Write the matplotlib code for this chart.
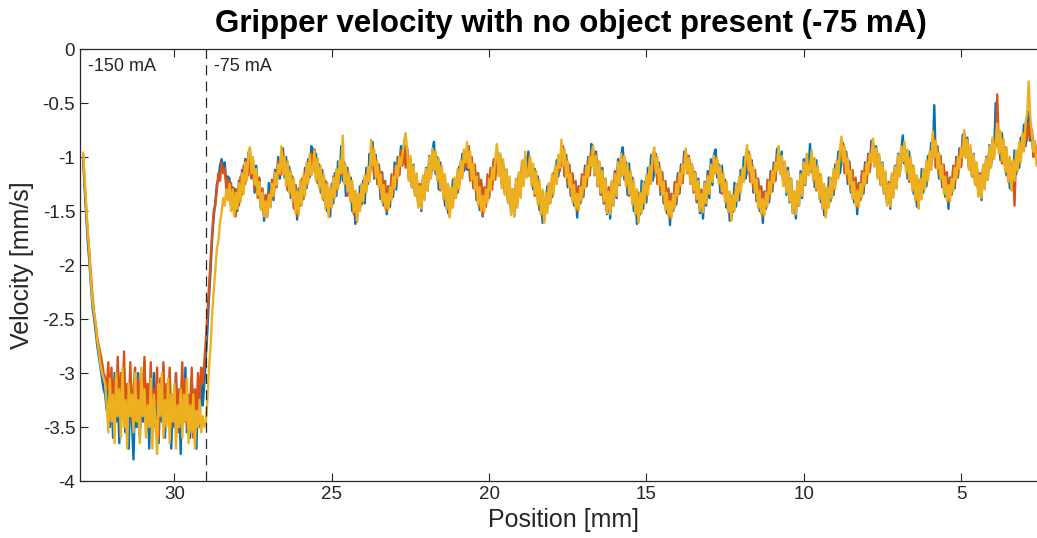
import numpy as np
import matplotlib
matplotlib.use("Agg")
import matplotlib.pyplot as plt

plt.rcParams['font.family'] = ['Liberation Sans', 'DejaVu Sans']

vel_blue = [
    # start-up drop
    -1.02, -1.3, -1.55, -1.8, -1.98, -2.2, -2.4, -2.5, -2.62, -2.75, -2.85, -2.95, -3.05, -3.15, -3.2,
    # -150 mA plateau
    -3.35, -3.05, -3.5, -3.15, -3.6, -3.0, -3.45, -3.2, -3.65, -3.1,
    -3.4, -2.95, -3.55, -3.25, -3.7, -3.1, -3.45, -3.8, -3.2, -3.5,
    -3.0, -3.6, -3.25, -3.45, -2.9, -3.55, -3.2, -3.7, -3.15, -3.4,
    -3.0, -3.5, -3.3, -3.65, -3.1, -3.45, -2.95, -3.6, -3.2, -3.4,
    -3.05, -3.7, -3.25, -3.5, -3.0, -3.55, -3.2, -3.75, -3.1, -3.45,
    -2.95, -3.55, -3.3, -3.6, -3.05, -3.4, -3.2, -3.7, -3.15, -3.5,
    -3.0, -3.3, -3.1,
    # switch to -75 mA
    -2.85, -2.6, -2.3, -2.05, -1.75, -1.55, -1.42, -1.25, -1.2, -1.08, -1.02, -1.12, -1.05, -1.25, -1.18,
    -1.20, -1.45, -1.28, -1.52, -1.30, -1.50, -1.22, -1.40, -1.12, -1.31, -1.02, -1.20, -0.96,
    # -75 mA ripple
    -0.93, -1.19, -1.07, -1.33, -1.08, -1.31, -1.21, -1.47, -1.36, -1.59, -1.36, -1.51, -1.24, -1.46, -1.25, -1.40, -1.12, -1.22, -1.00, -1.20,
    -1.10, -0.92, -1.19, -1.00, -1.30, -1.09, -1.38, -1.18, -1.47, -1.26, -1.58, -1.29, -1.45, -1.22, -1.39, -1.10, -1.29, -1.02, -1.19, -0.90,
    -0.93, -1.12, -0.97, -1.24, -1.07, -1.33, -1.12, -1.40, -1.22, -1.50, -1.35, -1.55, -1.25, -1.43, -1.15, -1.36, -1.04, -1.24,
    -0.90, -1.22, -1.05, -1.36, -1.10, -1.28, -1.19, -1.50, -1.33, -1.62, -1.38, -1.48, -1.27, -1.44, -1.22, -1.43, -1.10, -1.25, -0.97,
    -1.08, -0.86, -1.20, -0.98, -1.25, -1.07, -1.39, -1.14, -1.45, -1.28, -1.53, -1.27, -1.46, -1.18, -1.37, -1.05, -1.30, -1.00, -1.14, -0.90, -1.05,
    -0.88, -1.07, -0.92, -1.19, -1.02, -1.28, -1.07, -1.35, -1.17, -1.45, -1.30, -1.50, -1.20, -1.38, -1.10, -1.31, -0.99, -1.19, -0.95,
    -0.86, -1.16, -1.00, -1.30, -1.05, -1.23, -1.18, -1.45, -1.29, -1.52, -1.34, -1.44, -1.21, -1.38, -1.22, -1.33, -1.09, -1.15, -0.97, -1.13, -1.02,
    -1.12, -0.90, -1.21, -1.03, -1.27, -1.11, -1.40, -1.15, -1.49, -1.24, -1.55, -1.31, -1.43, -1.25, -1.36, -1.12, -1.26, -1.04, -1.16,
    -0.93, -1.12, -0.97, -1.24, -1.07, -1.33, -1.12, -1.40, -1.22, -1.50, -1.35, -1.55, -1.25, -1.43, -1.15, -1.36, -1.04, -1.24, -1.00, -1.13,
    -0.95, -1.17, -1.10, -1.30, -1.11, -1.34, -1.18, -1.49, -1.33, -1.61, -1.38, -1.49, -1.27, -1.43, -1.28, -1.37, -1.15, -1.20, -1.03, -1.18, -1.07,
    -1.08, -0.90, -1.17, -0.98, -1.28, -1.07, -1.36, -1.16, -1.45, -1.24, -1.56, -1.27, -1.43, -1.20, -1.37, -1.08, -1.27, -1.00, -1.17, -0.88,
    -0.90, -1.15, -0.95, -1.27, -1.05, -1.35, -1.10, -1.43, -1.20, -1.53, -1.33, -1.57, -1.23, -1.45, -1.13, -1.38, -1.02, -1.26, -0.98,
    -0.91, -1.21, -1.05, -1.35, -1.06, -1.33, -1.19, -1.50, -1.34, -1.62, -1.33, -1.53, -1.22, -1.48, -1.23, -1.42, -1.10, -1.24, -0.98, -1.22,
    -1.15, -0.97, -1.24, -1.05, -1.35, -1.14, -1.43, -1.23, -1.52, -1.31, -1.63, -1.34, -1.50, -1.27, -1.44, -1.15, -1.34, -1.07, -1.24, -0.95,
    -0.95, -1.10, -0.99, -1.22, -1.09, -1.31, -1.14, -1.42, -1.20, -1.52, -1.33, -1.57, -1.23, -1.45, -1.13, -1.38, -1.02, -1.26, -0.98,
    -0.93, -1.19, -1.07, -1.33, -1.08, -1.31, -1.21, -1.47, -1.36, -1.59, -1.36, -1.51, -1.24, -1.46, -1.25, -1.40, -1.12, -1.22, -1.00, -1.20,
    -1.13, -0.95, -1.22, -1.03, -1.33, -1.12, -1.41, -1.21, -1.50, -1.29, -1.61, -1.32, -1.48, -1.25, -1.42, -1.13, -1.32, -1.05, -1.22, -0.93,
    -0.91, -1.14, -0.95, -1.26, -1.05, -1.35, -1.10, -1.42, -1.20, -1.52, -1.33, -1.57, -1.23, -1.45, -1.13, -1.38, -1.02, -1.26, -0.98, -1.15,
    -0.88, -1.14, -1.02, -1.28, -1.03, -1.26, -1.16, -1.42, -1.31, -1.54, -1.31, -1.46, -1.19, -1.41, -1.20, -1.35, -1.07, -1.17, -0.95, -1.15,
    -1.05, -0.87, -1.14, -0.95, -1.25, -1.04, -1.33, -1.13, -1.42, -1.21, -1.53, -1.24, -1.40, -1.17, -1.34, -1.05, -1.24, -0.97, -1.14, -0.85,
    -0.86, -1.05, -0.90, -1.17, -1.00, -1.26, -1.05, -1.33, -1.15, -1.43, -1.28, -1.48, -1.18, -1.36, -1.08, -1.29, -0.97, -1.17, -0.93,
    -0.80, -1.06, -0.94, -1.20, -0.95, -1.18, -1.08, -1.34, -1.23, -1.46, -1.23, -1.38, -1.11, -1.33, -1.12, -1.27, -0.99, -1.09, -0.87,
    -1.00, -0.52, -1.09, -0.90, -1.20, -0.99, -1.28, -1.08, -1.37, -1.16, -1.48, -1.19, -1.35, -1.12, -1.29, -1.00, -1.19, -0.92, -1.09, -0.80,
    -0.78, -0.97, -0.82, -1.09, -0.92, -1.18, -0.97, -1.25, -1.07, -1.35, -1.20, -1.40, -1.10, -1.28, -1.00, -1.21, -0.89, -1.09, -0.85, -0.98,
    -0.50, -0.89, -0.77, -1.03, -0.78, -1.01, -0.91, -1.17, -1.06, -1.29, -1.06, -1.21, -0.94, -1.16, -0.95, -1.10, -0.82, -0.92, -0.70, -0.90, -0.75,
    -0.58, -0.85, -0.75, -0.98, -0.88, -0.95,
]

vel_orange = [
    -0.98, -1.25, -1.5, -1.72, -1.9, -2.1, -2.3, -2.45, -2.55, -2.68, -2.75, -2.82, -2.9, -3.0, -3.05,
    -3.15, -2.9, -3.3, -2.95, -3.45, -3.05, -3.25, -2.85, -3.4, -3.0,
    -3.3, -2.8, -3.5, -3.1, -3.35, -2.9, -3.45, -3.15, -2.95, -3.4,
    -3.05, -3.55, -3.0, -3.3, -2.85, -3.45, -3.1, -3.35, -2.9, -3.5,
    -3.15, -3.3, -2.95, -3.6, -3.05, -3.35, -2.9, -3.45, -3.1, -3.3,
    -2.95, -3.5, -3.2, -3.4, -3.0, -3.55, -3.15, -3.3, -2.9, -3.45,
    -3.05, -3.5, -3.2, -3.35, -2.95, -3.6, -3.15, -3.4, -3.0, -3.3,
    -2.95, -3.1, -2.9,
    -2.7, -2.45, -2.2, -1.95, -1.7, -1.5, -1.45, -1.3, -1.15, -1.22, -1.05, -1.15, -1.1, -1.3, -1.2,
    -1.40, -1.24, -1.48, -1.29, -1.55, -1.30, -1.45, -1.18, -1.35, -1.08, -1.25, -1.02, -1.17,
    -0.99, -1.20, -1.04, -1.30, -1.13, -1.38, -1.19, -1.46, -1.29, -1.54, -1.35, -1.55, -1.32, -1.45, -1.21, -1.38, -1.13, -1.28, -1.04, -1.17,
    -1.12, -0.96, -1.17, -1.05, -1.31, -1.12, -1.35, -1.20, -1.48, -1.27, -1.55, -1.33, -1.42, -1.20, -1.37, -1.14, -1.26, -1.06, -1.17, -0.97,
    -1.06, -0.93, -1.20, -1.02, -1.27, -1.10, -1.36, -1.17, -1.44, -1.24, -1.52, -1.30, -1.44, -1.18, -1.36, -1.12, -1.28, -1.04,
    -1.17, -1.01, -1.22, -1.10, -1.36, -1.17, -1.40, -1.25, -1.53, -1.32, -1.60, -1.38, -1.47, -1.25, -1.42, -1.19, -1.31, -1.11, -1.22,
    -1.04, -0.91, -1.18, -1.00, -1.25, -1.08, -1.34, -1.15, -1.42, -1.22, -1.50, -1.28, -1.42, -1.16, -1.34, -1.10, -1.26, -1.02, -1.17, -0.94, -1.08,
    -0.89, -1.10, -0.94, -1.20, -1.03, -1.28, -1.09, -1.36, -1.19, -1.44, -1.25, -1.45, -1.22, -1.35, -1.11, -1.28, -1.03, -1.18, -0.94,
    -1.12, -0.96, -1.17, -1.05, -1.31, -1.12, -1.35, -1.20, -1.48, -1.27, -1.55, -1.33, -1.42, -1.20, -1.37, -1.14, -1.26, -1.06, -1.17, -0.97, -1.10,
    -1.08, -0.90, -1.22, -1.00, -1.29, -1.07, -1.38, -1.15, -1.46, -1.21, -1.54, -1.28, -1.46, -1.16, -1.38, -1.10, -1.30, -1.02, -1.21,
    -0.94, -1.15, -0.99, -1.25, -1.08, -1.33, -1.14, -1.41, -1.24, -1.49, -1.30, -1.50, -1.27, -1.40, -1.16, -1.33, -1.08, -1.23, -0.99, -1.12,
    -1.17, -1.01, -1.22, -1.10, -1.36, -1.17, -1.40, -1.25, -1.53, -1.32, -1.60, -1.38, -1.47, -1.25, -1.42, -1.19, -1.31, -1.11, -1.22, -1.02, -1.13,
    -1.04, -0.91, -1.18, -1.00, -1.25, -1.08, -1.34, -1.15, -1.42, -1.22, -1.50, -1.28, -1.42, -1.16, -1.34, -1.10, -1.26, -1.02, -1.17, -0.94,
    -0.92, -1.17, -0.97, -1.27, -1.06, -1.35, -1.12, -1.43, -1.22, -1.51, -1.28, -1.52, -1.25, -1.42, -1.14, -1.35, -1.06, -1.25, -0.97,
    -1.17, -1.01, -1.22, -1.10, -1.36, -1.17, -1.40, -1.25, -1.53, -1.32, -1.60, -1.38, -1.47, -1.25, -1.42, -1.19, -1.31, -1.11, -1.22, -1.02,
    -1.11, -0.98, -1.25, -1.07, -1.32, -1.15, -1.41, -1.22, -1.49, -1.29, -1.57, -1.35, -1.49, -1.23, -1.41, -1.17, -1.33, -1.09, -1.24, -1.01,
    -0.94, -1.15, -0.99, -1.25, -1.08, -1.33, -1.14, -1.41, -1.24, -1.49, -1.30, -1.50, -1.27, -1.40, -1.16, -1.33, -1.08, -1.23, -0.99,
    -1.15, -1.03, -1.20, -1.12, -1.34, -1.19, -1.38, -1.27, -1.51, -1.34, -1.58, -1.40, -1.45, -1.27, -1.40, -1.21, -1.29, -1.13, -1.20, -1.04,
    -1.09, -0.96, -1.23, -1.05, -1.30, -1.13, -1.39, -1.20, -1.47, -1.27, -1.55, -1.33, -1.47, -1.21, -1.39, -1.15, -1.31, -1.07, -1.22, -0.99,
    -0.96, -1.13, -1.01, -1.23, -1.10, -1.31, -1.16, -1.39, -1.26, -1.47, -1.32, -1.48, -1.29, -1.38, -1.18, -1.31, -1.10, -1.21, -1.01, -1.10,
    -1.12, -0.96, -1.17, -1.05, -1.31, -1.12, -1.35, -1.20, -1.48, -1.27, -1.55, -1.33, -1.42, -1.20, -1.37, -1.14, -1.26, -1.06, -1.17, -0.97,
    -1.01, -0.88, -1.15, -0.97, -1.22, -1.05, -1.31, -1.12, -1.39, -1.19, -1.47, -1.25, -1.39, -1.13, -1.31, -1.07, -1.23, -0.99, -1.14, -0.91,
    -0.87, -1.08, -0.92, -1.18, -1.01, -1.26, -1.07, -1.34, -1.17, -1.42, -1.23, -1.43, -1.20, -1.33, -1.09, -1.26, -1.01, -1.16, -0.92,
    -1.04, -0.88, -1.09, -0.97, -1.23, -1.04, -1.27, -1.12, -1.40, -1.19, -1.47, -1.25, -1.34, -1.12, -1.29, -1.06, -1.18, -0.98, -1.09,
    -0.96, -0.83, -1.10, -0.92, -1.17, -1.00, -1.26, -1.07, -1.34, -1.14, -1.42, -1.20, -1.34, -1.08, -1.26, -1.02, -1.18, -0.94, -1.09, -0.86,
    -0.79, -1.00, -0.84, -1.10, -0.93, -1.18, -0.99, -1.26, -1.09, -1.34, -1.15, -1.35, -1.12, -1.25, -1.01, -1.18, -0.93, -1.08, -0.84, -0.97,
    -0.87, -0.42, -0.92, -0.80, -1.06, -0.87, -1.10, -0.95, -1.23, -1.02, -1.30, -1.08, -1.45, -0.95, -1.12, -0.89, -1.01, -0.81, -0.92, -0.72, -0.85,
    -0.68, -0.82, -0.75, -1.0, -0.9, -0.97,
]

vel_yellow = [
    -0.96, -1.2, -1.45, -1.7, -1.9, -2.15, -2.35, -2.45, -2.55, -2.7, -2.8, -2.92, -3.0, -3.05, -3.1,
    -3.3, -3.55, -3.05, -3.45, -3.2, -3.65, -3.0, -3.4, -3.15, -3.6,
    -2.95, -3.5, -3.25, -3.7, -3.1, -3.4, -3.2, -3.55, -3.0, -3.45,
    -3.25, -3.65, -2.95, -3.4, -3.15, -3.6, -3.3, -3.5, -3.05, -3.7,
    -3.2, -3.45, -3.75, -3.1, -3.4, -3.0, -3.6, -3.25, -3.5, -3.05,
    -3.65, -3.2, -3.45, -3.1, -3.7, -3.3, -3.5, -3.15, -3.6, -3.2,
    -3.45, -3.05, -3.65, -3.3, -3.55, -3.2, -3.7, -3.35, -3.5, -3.25,
    -3.55, -3.4, -3.5,
    -3.45, -3.25, -2.95, -2.75, -2.45, -2.25, -2.05, -1.85, -1.78, -1.6, -1.52, -1.38, -1.45, -1.3, -1.4,
    -1.25, -1.50, -1.30, -1.55, -1.33, -1.48, -1.24, -1.42, -1.15, -1.34, -1.05, -1.22, -0.98,
    -0.91, -1.15, -1.00, -1.26, -1.11, -1.35, -1.23, -1.49, -1.33, -1.55, -1.41, -1.56, -1.35, -1.47, -1.25, -1.36, -1.15, -1.26, -1.07, -1.15,
    -0.90, -1.16, -0.99, -1.27, -1.04, -1.33, -1.13, -1.41, -1.20, -1.52, -1.32, -1.53, -1.22, -1.45, -1.16, -1.36, -1.05, -1.25, -0.97, -1.17,
    -1.12, -0.94, -1.22, -1.01, -1.29, -1.08, -1.39, -1.16, -1.48, -1.25, -1.56, -1.28, -1.47, -1.19, -1.38, -1.11, -1.30, -1.03,
    -1.15, -0.80, -1.25, -1.08, -1.32, -1.14, -1.42, -1.22, -1.51, -1.31, -1.59, -1.34, -1.50, -1.25, -1.41, -1.17, -1.33, -1.09, -1.23,
    -0.84, -1.08, -0.93, -1.19, -1.04, -1.28, -1.16, -1.42, -1.26, -1.48, -1.34, -1.49, -1.28, -1.40, -1.18, -1.29, -1.08, -1.19, -1.00, -1.08, -0.98,
    -0.85, -0.78, -0.94, -1.22, -0.99, -1.28, -1.08, -1.36, -1.15, -1.47, -1.27, -1.48, -1.17, -1.40, -1.11, -1.31, -1.00, -1.20, -0.92,
    -1.12, -0.94, -1.22, -1.01, -1.29, -1.08, -1.39, -1.16, -1.48, -1.25, -1.56, -1.28, -1.47, -1.19, -1.38, -1.11, -1.30, -1.03, -1.20, -0.93, -1.05,
    -0.86, -1.10, -0.95, -1.21, -1.06, -1.30, -1.18, -1.44, -1.28, -1.50, -1.36, -1.51, -1.30, -1.42, -1.20, -1.31, -1.10, -1.21, -1.02,
    -0.88, -1.18, -0.97, -1.29, -1.02, -1.35, -1.11, -1.43, -1.18, -1.54, -1.30, -1.55, -1.20, -1.47, -1.14, -1.38, -1.03, -1.27, -0.95, -1.19,
    -1.17, -0.99, -1.27, -1.06, -1.34, -1.13, -1.44, -1.21, -1.53, -1.30, -1.61, -1.33, -1.52, -1.24, -1.43, -1.16, -1.35, -1.08, -1.25, -0.98, -1.10,
    -0.84, -1.08, -0.93, -1.19, -1.04, -1.28, -1.16, -1.42, -1.26, -1.48, -1.34, -1.49, -1.28, -1.40, -1.18, -1.29, -1.08, -1.19, -1.00, -1.08,
    -0.90, -1.16, -0.99, -1.27, -1.04, -1.33, -1.13, -1.41, -1.20, -1.52, -1.32, -1.53, -1.22, -1.45, -1.16, -1.36, -1.05, -1.25, -0.97,
    -1.17, -0.99, -1.27, -1.06, -1.34, -1.13, -1.44, -1.21, -1.53, -1.30, -1.61, -1.33, -1.52, -1.24, -1.43, -1.16, -1.35, -1.08, -1.25, -0.98,
    -0.91, -1.15, -1.00, -1.26, -1.11, -1.35, -1.23, -1.49, -1.33, -1.55, -1.41, -1.56, -1.35, -1.47, -1.25, -1.36, -1.15, -1.26, -1.07, -1.15,
    -0.92, -1.14, -1.01, -1.25, -1.06, -1.31, -1.15, -1.39, -1.22, -1.50, -1.34, -1.51, -1.24, -1.43, -1.18, -1.34, -1.07, -1.23, -0.99,
    -1.15, -1.01, -1.25, -1.08, -1.32, -1.15, -1.42, -1.23, -1.51, -1.32, -1.59, -1.35, -1.50, -1.26, -1.41, -1.18, -1.33, -1.10, -1.23, -1.00,
    -0.89, -1.13, -0.98, -1.24, -1.09, -1.33, -1.21, -1.47, -1.31, -1.53, -1.39, -1.54, -1.33, -1.45, -1.23, -1.34, -1.13, -1.24, -1.05, -1.13,
    -0.90, -1.16, -0.99, -1.27, -1.04, -1.33, -1.13, -1.41, -1.20, -1.52, -1.32, -1.53, -1.22, -1.45, -1.16, -1.36, -1.05, -1.25, -0.97, -1.17,
    -1.12, -0.94, -1.22, -1.01, -1.29, -1.08, -1.39, -1.16, -1.48, -1.25, -1.56, -1.28, -1.47, -1.19, -1.38, -1.11, -1.30, -1.03, -1.20, -0.93,
    -0.81, -1.05, -0.90, -1.16, -1.01, -1.25, -1.13, -1.39, -1.23, -1.45, -1.31, -1.46, -1.25, -1.37, -1.15, -1.26, -1.05, -1.16, -0.97, -1.05,
    -0.83, -1.09, -0.92, -1.20, -0.97, -1.26, -1.06, -1.34, -1.13, -1.45, -1.25, -1.46, -1.15, -1.38, -1.09, -1.29, -0.98, -1.18, -0.90,
    -1.04, -0.86, -1.14, -0.93, -1.21, -1.00, -1.31, -1.08, -1.40, -1.17, -1.48, -1.20, -1.39, -1.11, -1.30, -1.03, -1.22, -0.95, -1.12,
    -0.76, -1.00, -0.85, -1.11, -0.96, -1.20, -1.08, -1.34, -1.18, -1.40, -1.26, -1.41, -1.20, -1.32, -1.10, -1.21, -1.00, -1.11, -0.92, -1.00,
    -0.75, -1.01, -0.84, -1.12, -0.89, -1.18, -0.98, -1.26, -1.05, -1.37, -1.17, -1.38, -1.07, -1.30, -1.01, -1.21, -0.90, -1.10, -0.82, -1.02,
    -0.87, -0.69, -0.97, -0.76, -1.04, -0.83, -1.14, -0.91, -1.23, -1.00, -1.31, -1.03, -1.22, -0.94, -1.13, -0.86, -1.05, -0.78, -0.95, -0.68, -0.60,
    -0.30, -0.62, -0.78, -0.95, -0.85, -1.08,
]

x_ticks = [30, 25, 20, 15, 10, 5]
y_ticks = [-4, -3.5, -3, -2.5, -2, -1.5, -1, -0.5, 0]
y_ticklabels = ['-4', '-3.5', '-3', '-2.5', '-2', '-1.5', '-1', '-0.5', '0']
switch_pos = 29.0

col = ['#0072BD', '#D95319', '#EDB120']
axcol = '#262626'

fig = plt.figure(figsize=(10.37, 5.38), dpi=100)
ax = fig.add_axes([80/1037, 57/538, 966/1037, 432/538])

for v, c in zip([vel_blue, vel_orange, vel_yellow], col):
    position = np.linspace(32.9, 2.6, len(v))   # 0.05 mm sample spacing
    ax.plot(position, v, color=c, lw=1.7)

ax.axvline(switch_pos, color=axcol, lw=0.9, ls=(0, (8, 5)))
ax.text(32.75, -0.16, '-150 mA', fontsize=13, color=axcol, va='center')
ax.text(28.75, -0.16, '-75 mA', fontsize=13, color=axcol, va='center')

ax.set_xlim(33.0, 2.3)
ax.set_ylim(-4, 0)
ax.set_xticks(x_ticks)
ax.set_yticks(y_ticks)
ax.set_yticklabels(y_ticklabels)
ax.tick_params(direction='in', top=True, right=True, length=6, width=0.8,
               labelsize=13.5, colors=axcol)
for s in ax.spines.values():
    s.set_color(axcol)
    s.set_linewidth(0.9)

ax.set_xlabel('Position [mm]', fontsize=18, color=axcol, labelpad=4)
ax.set_ylabel('Velocity [mm/s]', fontsize=18, color=axcol, labelpad=6)
fig.text(571/1037, 1 - 24/538, 'Gripper velocity with no object present (-75 mA)',
         fontsize=22.5, fontweight='bold', ha='center', va='center', color='black')

fig.savefig('out.png', dpi=100)
